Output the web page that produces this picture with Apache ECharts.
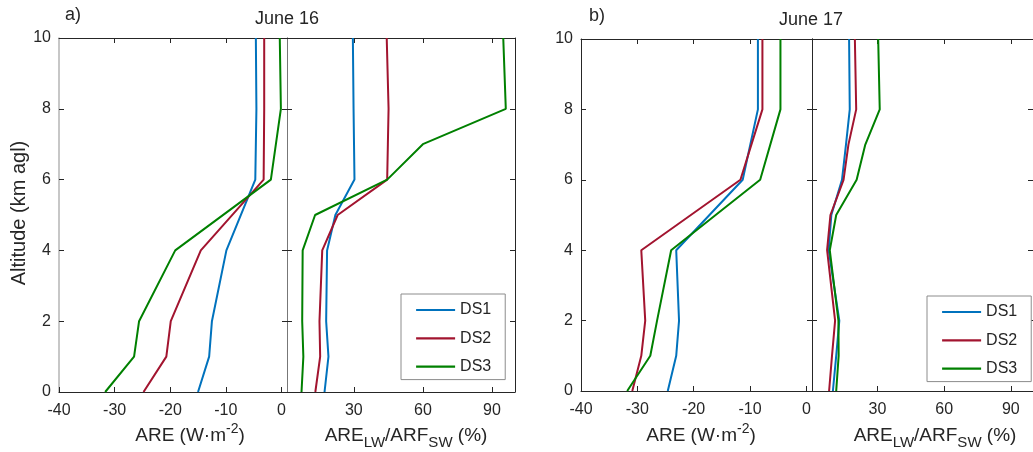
<!DOCTYPE html>
<html>
<head>
<meta charset="utf-8">
<script src="https://cdn.jsdelivr.net/npm/echarts@6/dist/echarts.min.js"></script>
<style>html,body{margin:0;padding:0;background:#fff}#c{width:1033px;height:452px}</style>
</head>
<body>
<div id="c"></div>
<script>
// ---- data ----
const seriesNames = ['DS1', 'DS2', 'DS3'];
const altLeft = [0, 1, 2, 4, 6, 8, 10];
const altRight = [0, 1, 2, 4, 5, 6, 7, 8, 10];

// a) June 16, ARE (W m-2)
const aL_DS1 = [-15.0, -13.0, -12.5, -9.9, -4.7, -4.5, -4.6];
const aL_DS2 = [-24.8, -20.7, -19.9, -14.5, -3.2, -3.1, -3.1];
const aL_DS3 = [-31.7, -26.5, -25.6, -19.1, -1.9, -0.1, -0.3];
// a) June 16, ARE_LW/ARF_SW (%)
const aR_DS1 = [17.3, 19.0, 18.0, 18.4, 22.0, 30.3, 30.1, 29.9, 29.6];
const aR_DS2 = [13.3, 15.4, 15.1, 16.3, 23.0, 44.5, 44.8, 45.1, 44.3];
const aR_DS3 = [7.3, 8.1, 7.6, 7.8, 13.2, 44.5, 60.0, 96.0, 94.9];
// b) June 17, ARE (W m-2)
const bL_DS1 = [-24.6, -23.1, -22.6, -23.1, -11.3, -8.6, -8.6];
const bL_DS2 = [-30.9, -29.3, -28.6, -29.3, -11.7, -7.8, -7.8];
const bL_DS3 = [-31.8, -27.7, -26.5, -24.0, -8.2, -4.6, -4.6];
// b) June 17, ARE_LW/ARF_SW (%)
const bR_DS1 = [9.9, 11.4, 12.8, 8.0, 9.2, 14.0, 15.8, 17.5, 17.2];
const bR_DS2 = [8.2, 9.5, 10.9, 7.3, 8.8, 14.7, 16.9, 20.4, 19.8];
const bR_DS3 = [11.4, 12.5, 12.4, 8.5, 11.4, 20.6, 24.5, 31.0, 30.3];

const areTicks = [-40, -30, -20, -10, 0];
const areTopTicks = [-30, -20, -10];
const ratioTicks = [30, 60, 90];
const altTicks = [0, 2, 4, 6, 8, 10];
const altInnerTicks = [2, 4, 6, 8];

// ---- style ----
const TXT = '#262626';
const FONT = '"Liberation Sans", Arial, sans-serif';
const colors = ['#0072BD', '#A2142F', '#008000'];

const grids = [
  {left: 59, top: 38, width: 228, height: 354},
  {left: 287, top: 38, width: 228, height: 354},
  {left: 581, top: 39, width: 231, height: 352},
  {left: 812, top: 39, width: 228, height: 352}
];
const xRanges = [[-40, 1], [1, 100], [-40, 1], [0.5, 100]];
const xTickSets = [[areTicks, areTopTicks], [ratioTicks, ratioTicks], [areTicks, areTopTicks], [ratioTicks, ratioTicks]];
const leftLineColors = ['#b4b4b4', '#777777', TXT, TXT];
const rightLineColors = ['#777777', TXT, TXT, TXT];

const xAxis = [], yAxis = [];
grids.forEach((g, i) => {
  const [bt, tt] = xTickSets[i];
  xAxis.push({
    gridIndex: i, type: 'value', min: xRanges[i][0], max: xRanges[i][1], position: 'bottom',
    axisLine: {show: true, onZero: false, lineStyle: {color: TXT, width: 1}},
    axisTick: {show: true, inside: true, length: 5, customValues: bt, lineStyle: {color: TXT}},
    axisLabel: {show: true, customValues: bt, color: TXT, fontSize: 16, fontFamily: FONT, margin: 11},
    splitLine: {show: false}
  });
  xAxis.push({
    gridIndex: i, type: 'value', min: xRanges[i][0], max: xRanges[i][1], position: 'top',
    axisLine: {show: true, onZero: false, lineStyle: {color: TXT, width: 1}},
    axisTick: {show: true, inside: true, length: 5, customValues: tt, lineStyle: {color: TXT}},
    axisLabel: {show: false},
    splitLine: {show: false}
  });
  const isLabelled = (i === 0 || i === 2);
  yAxis.push({
    gridIndex: i, type: 'value', min: 0, max: 10, position: 'left',
    axisLine: {show: true, onZero: false, lineStyle: {color: leftLineColors[i], width: i === 0 ? 1.5 : 1}},
    axisTick: {show: true, inside: true, length: 5, customValues: isLabelled ? altTicks : altInnerTicks, lineStyle: {color: TXT}},
    axisLabel: {show: isLabelled, customValues: altTicks, color: TXT, fontSize: 16, fontFamily: FONT, margin: 8},
    splitLine: {show: false}
  });
  yAxis.push({
    gridIndex: i, type: 'value', min: 0, max: 10, position: 'right',
    axisLine: {show: true, onZero: false, lineStyle: {color: rightLineColors[i], width: 1}},
    axisTick: {show: true, inside: true, length: 5, customValues: altInnerTicks, lineStyle: {color: TXT}},
    axisLabel: {show: false},
    splitLine: {show: false}
  });
});

const panelData = [
  [altLeft, [aL_DS1, aL_DS2, aL_DS3]],
  [altRight, [aR_DS1, aR_DS2, aR_DS3]],
  [altLeft, [bL_DS1, bL_DS2, bL_DS3]],
  [altRight, [bR_DS1, bR_DS2, bR_DS3]]
];
const series = [];
panelData.forEach(([alt, sets], p) => {
  sets.forEach((vals, k) => {
    series.push({
      name: seriesNames[k], type: 'line', xAxisIndex: p * 2, yAxisIndex: p * 2,
      symbol: 'none', animation: false,
      lineStyle: {color: colors[k], width: 2},
      itemStyle: {color: colors[k]},
      data: alt.map((a, j) => [vals[j], a])
    });
  });
});

const legendBase = {
  data: seriesNames, orient: 'vertical', itemWidth: 39, itemHeight: 14, itemGap: 12.3,
  backgroundColor: '#fff', borderColor: '#8c8c8c', borderWidth: 1, padding: [8, 14, 5, 14],
  itemStyle: {opacity: 0}, lineStyle: {width: 2.2},
  textStyle: {color: TXT, fontSize: 16, fontFamily: FONT}, selectedMode: false
};

const rich = {
  n: {fontSize: 19, fontFamily: FONT, color: TXT, lineHeight: 28},
  sup: {fontSize: 14, fontFamily: FONT, color: TXT, lineHeight: 14, verticalAlign: 'top'},
  sub: {fontSize: 15, fontFamily: FONT, color: TXT, lineHeight: 13, verticalAlign: 'bottom'}
};
function txt(x, y, text, size) {
  return {type: 'text', x: x, y: y, style: {text: text, fill: TXT, font: size + 'px ' + FONT, align: 'center', verticalAlign: 'middle'}};
}
function richTxt(x, y, text) {
  return {type: 'text', x: x, y: y, style: {text: text, rich: rich, align: 'center', verticalAlign: 'middle', fill: TXT}};
}

const option = {
  animation: false,
  grid: grids,
  xAxis: xAxis,
  yAxis: yAxis,
  series: series,
  legend: [
    Object.assign({left: 401, top: 294}, legendBase),
    Object.assign({left: 927, top: 296}, legendBase)
  ],
  graphic: [
    {type: 'text', x: 65, y: 15, style: {text: 'a)', fill: TXT, font: '18px ' + FONT, align: 'left', verticalAlign: 'middle'}},
    txt(287, 19, 'June 16', 18),
    {type: 'text', x: 589, y: 16, style: {text: 'b)', fill: TXT, font: '18px ' + FONT, align: 'left', verticalAlign: 'middle'}},
    txt(811, 20, 'June 17', 18),
    {type: 'text', x: 19, y: 213, rotation: Math.PI / 2, style: {text: 'Altitude (km agl)', fill: TXT, font: '20px ' + FONT, align: 'center', verticalAlign: 'middle'}},
    richTxt(190, 436, '{n|ARE (W·m}{sup|-2}{n|)}'),
    richTxt(701, 436, '{n|ARE (W·m}{sup|-2}{n|)}'),
    richTxt(406, 436, '{n|ARE}{sub|LW}{n|/ARF}{sub|SW}{n| (%)}'),
    richTxt(935, 436, '{n|ARE}{sub|LW}{n|/ARF}{sub|SW}{n| (%)}')
  ]
};
const chart = echarts.init(document.getElementById('c'), null, {renderer: 'canvas'});
chart.setOption(option);
</script>
</body>
</html>
